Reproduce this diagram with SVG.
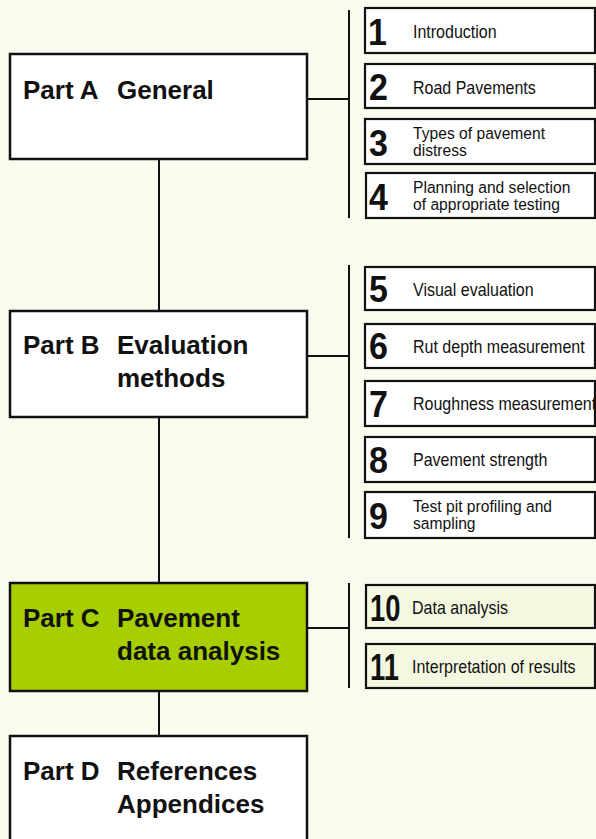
<svg xmlns="http://www.w3.org/2000/svg" width="596" height="839" viewBox="0 0 596 839">
<style>
.part{fill:#ffffff;stroke:#111111;stroke-width:2.5}
.partc{fill:#a6ce00;stroke:#111111;stroke-width:2.5}
.item{fill:#ffffff;stroke:#111111;stroke-width:2.2}
.itemc{fill:#f5f8e1;stroke:#111111;stroke-width:2.2}
.h{font-family:"Liberation Sans",Arial,sans-serif;font-weight:bold;font-size:26px;fill:#111111}
.n{font-family:"Liberation Sans",Arial,sans-serif;font-weight:bold;font-size:37px;fill:#111111}
.t{font-family:"Liberation Sans",Arial,sans-serif;font-size:18px;fill:#111111}
.t2{font-family:"Liberation Sans",Arial,sans-serif;font-size:17px;fill:#111111}
.ln{stroke:#111111;stroke-width:2;fill:none}
</style>
<rect x="0" y="0" width="596" height="839" fill="#f9fbef"/>
<g id="connectors">
<line class="ln" x1="159" y1="159" x2="159" y2="311"/>
<line class="ln" x1="159" y1="417" x2="159" y2="583"/>
<line class="ln" x1="159" y1="691" x2="159" y2="736"/>
<line class="ln" x1="307" y1="99" x2="349" y2="99"/>
<line class="ln" x1="349" y1="10" x2="349" y2="218"/>
<line class="ln" x1="307" y1="356" x2="349" y2="356"/>
<line class="ln" x1="349" y1="265" x2="349" y2="538"/>
<line class="ln" x1="307" y1="628" x2="349" y2="628"/>
<line class="ln" x1="349" y1="583" x2="349" y2="688"/>
</g>
<g id="part-a">
<rect class="part" x="10" y="54" width="297" height="105"/>
<text class="h" x="23" y="99">Part A</text>
<text class="h" x="117" y="99">General</text>
</g>
<g id="part-b">
<rect class="part" x="10" y="311" width="297" height="106"/>
<text class="h" x="23" y="354">Part B</text>
<text class="h" x="117" y="354">Evaluation</text>
<text class="h" x="117" y="387">methods</text>
</g>
<g id="part-c">
<rect class="partc" x="10" y="583" width="297" height="108"/>
<text class="h" x="23" y="627">Part C</text>
<text class="h" x="117" y="627">Pavement</text>
<text class="h" x="117" y="660">data analysis</text>
</g>
<g id="part-d">
<rect class="part" x="10" y="736" width="297" height="106"/>
<text class="h" x="23" y="780">Part D</text>
<text class="h" x="117" y="780">References</text>
<text class="h" x="117" y="813">Appendices</text>
</g>
<g id="ch1">
<rect class="item" x="365" y="8" width="230" height="45"/>
<text class="n" transform="translate(368,45) scale(0.92,1)">1</text>
<text class="t" transform="translate(413,38) scale(0.89,1)">Introduction</text>
</g>
<g id="ch2">
<rect class="item" x="365" y="64" width="230" height="44"/>
<text class="n" transform="translate(369,100) scale(0.92,1)">2</text>
<text class="t" transform="translate(413,94) scale(0.89,1)">Road Pavements</text>
</g>
<g id="ch3">
<rect class="item" x="365" y="119" width="230" height="45"/>
<text class="n" transform="translate(369,156) scale(0.92,1)">3</text>
<text class="t2" transform="translate(413,139) scale(0.92,1)">Types of pavement</text>
<text class="t2" transform="translate(413,156) scale(0.92,1)">distress</text>
</g>
<g id="ch4">
<rect class="item" x="366" y="173" width="229" height="45"/>
<text class="n" transform="translate(369,210) scale(0.92,1)">4</text>
<text class="t2" transform="translate(413,193) scale(0.92,1)">Planning and selection</text>
<text class="t2" transform="translate(413,210) scale(0.92,1)">of appropriate testing</text>
</g>
<g id="ch5">
<rect class="item" x="365" y="267" width="230" height="43"/>
<text class="n" transform="translate(369,302) scale(0.92,1)">5</text>
<text class="t" transform="translate(413,296) scale(0.89,1)">Visual evaluation</text>
</g>
<g id="ch6">
<rect class="item" x="365" y="324" width="230" height="44"/>
<text class="n" transform="translate(369,359) scale(0.92,1)">6</text>
<text class="t" transform="translate(413,353) scale(0.89,1)">Rut depth measurement</text>
</g>
<g id="ch7">
<rect class="item" x="365" y="381" width="230" height="45"/>
<text class="n" transform="translate(369,417) scale(0.92,1)">7</text>
<text class="t" transform="translate(413,410) scale(0.89,1)">Roughness measurement</text>
</g>
<g id="ch8">
<rect class="item" x="365" y="437" width="230" height="45"/>
<text class="n" transform="translate(369,473) scale(0.92,1)">8</text>
<text class="t" transform="translate(413,466) scale(0.89,1)">Pavement strength</text>
</g>
<g id="ch9">
<rect class="item" x="365" y="492" width="230" height="46"/>
<text class="n" transform="translate(369,529) scale(0.92,1)">9</text>
<text class="t2" transform="translate(413,512) scale(0.92,1)">Test pit profiling and</text>
<text class="t2" transform="translate(413,529) scale(0.92,1)">sampling</text>
</g>
<g id="ch10">
<rect class="itemc" x="366" y="585" width="229" height="43"/>
<text class="n" transform="translate(370,621) scale(0.74,1)">10</text>
<text class="t" transform="translate(412,614) scale(0.89,1)">Data analysis</text>
</g>
<g id="ch11">
<rect class="itemc" x="366" y="644" width="229" height="44"/>
<text class="n" transform="translate(370,680) scale(0.74,1)">11</text>
<text class="t" transform="translate(412,673) scale(0.89,1)">Interpretation of results</text>
</g>
</svg>
